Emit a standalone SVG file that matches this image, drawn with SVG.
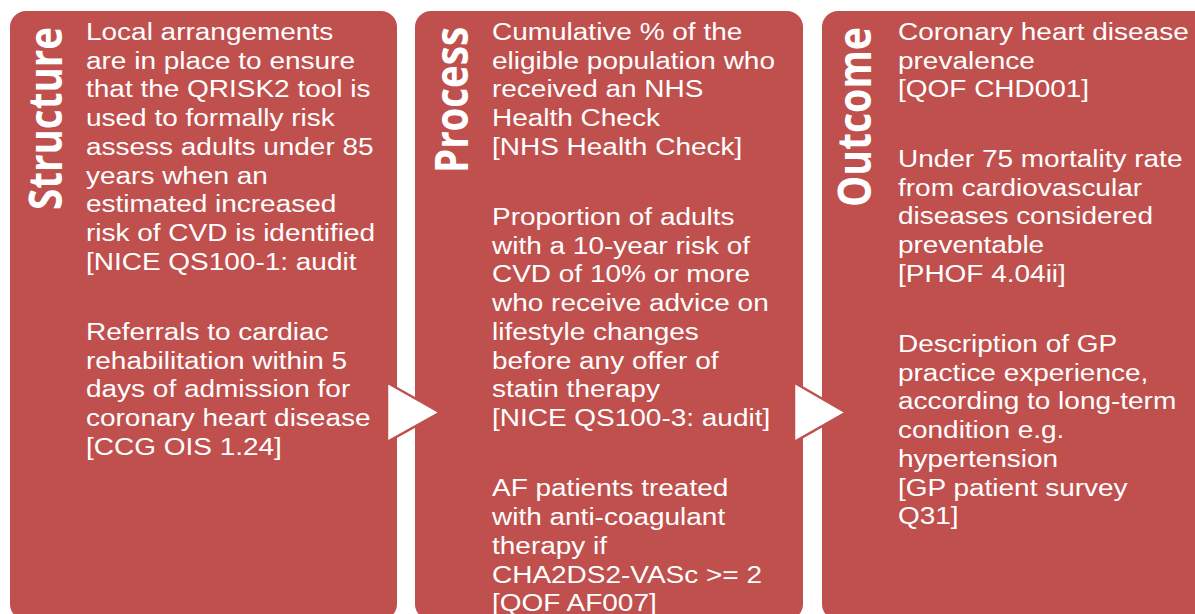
<svg xmlns="http://www.w3.org/2000/svg" width="1195" height="614" viewBox="0 0 1195 614">
<style>
.box{fill:#C0504D;}
.title{fill:#FFFFFF;font-family:"Open Sans","DejaVu Sans",sans-serif;font-weight:bold;font-size:41px;text-anchor:middle;}
.body{fill:#FFFFFF;font-family:"Liberation Sans",Arial,sans-serif;font-size:24.7px;}
.arrow{fill:#FFFFFF;stroke:#C0504D;stroke-width:2.5;stroke-linejoin:miter;}
</style>
<rect width="1195" height="614" fill="#FFFFFF"/>
<g id="structure">
<rect class="box" x="10" y="11" width="387" height="609" rx="16"/>
<text class="title" transform="translate(62,118.5) scale(1.133,1) rotate(-90)" textLength="183" lengthAdjust="spacingAndGlyphs">Structure</text>
<text class="body" transform="translate(86,0) scale(1.133,1)">
<tspan x="0" y="40">Local arrangements</tspan>
<tspan x="0" y="68.75">are in place to ensure</tspan>
<tspan x="0" y="97.5">that the QRISK2 tool is</tspan>
<tspan x="0" y="126.25">used to formally risk</tspan>
<tspan x="0" y="155">assess adults under 85</tspan>
<tspan x="0" y="183.75">years when an</tspan>
<tspan x="0" y="212.5">estimated increased</tspan>
<tspan x="0" y="241.25">risk of CVD is identified</tspan>
<tspan x="0" y="270">[NICE QS100-1: audit</tspan>
<tspan x="0" y="340">Referrals to cardiac</tspan>
<tspan x="0" y="368.75">rehabilitation within 5</tspan>
<tspan x="0" y="397.5">days of admission for</tspan>
<tspan x="0" y="426.25">coronary heart disease</tspan>
<tspan x="0" y="455">[CCG OIS 1.24]</tspan>
</text>
</g>
<g id="process">
<rect class="box" x="415" y="11" width="388" height="609" rx="16"/>
<text class="title" transform="translate(468,100) scale(1.133,1) rotate(-90)" textLength="146" lengthAdjust="spacingAndGlyphs">Process</text>
<text class="body" transform="translate(492,0) scale(1.133,1)">
<tspan x="0" y="40">Cumulative % of the</tspan>
<tspan x="0" y="68.75">eligible population who</tspan>
<tspan x="0" y="97.5">received an NHS</tspan>
<tspan x="0" y="126.25">Health Check</tspan>
<tspan x="0" y="155">[NHS Health Check]</tspan>
<tspan x="0" y="225">Proportion of adults</tspan>
<tspan x="0" y="253.75">with a 10-year risk of</tspan>
<tspan x="0" y="282.5">CVD of 10% or more</tspan>
<tspan x="0" y="311.25">who receive advice on</tspan>
<tspan x="0" y="340">lifestyle changes</tspan>
<tspan x="0" y="368.75">before any offer of</tspan>
<tspan x="0" y="397.5">statin therapy</tspan>
<tspan x="0" y="426.25">[NICE QS100-3: audit]</tspan>
<tspan x="0" y="496.5">AF patients treated</tspan>
<tspan x="0" y="525.25">with anti-coagulant</tspan>
<tspan x="0" y="554">therapy if</tspan>
<tspan x="0" y="582.75">CHA2DS2-VASc &gt;= 2</tspan>
<tspan x="0" y="611.5">[QOF AF007]</tspan>
</text>
</g>
<g id="outcome">
<rect class="box" x="822" y="11" width="388" height="609" rx="16"/>
<text class="title" transform="translate(871,117) scale(1.133,1) rotate(-90)" textLength="180" lengthAdjust="spacingAndGlyphs">Outcome</text>
<text class="body" transform="translate(898,0) scale(1.133,1)">
<tspan x="0" y="40">Coronary heart disease</tspan>
<tspan x="0" y="68.75">prevalence</tspan>
<tspan x="0" y="97.5">[QOF CHD001]</tspan>
<tspan x="0" y="167">Under 75 mortality rate</tspan>
<tspan x="0" y="195.75">from cardiovascular</tspan>
<tspan x="0" y="224.5">diseases considered</tspan>
<tspan x="0" y="253.25">preventable</tspan>
<tspan x="0" y="282">[PHOF 4.04ii]</tspan>
<tspan x="0" y="352">Description of GP</tspan>
<tspan x="0" y="380.75">practice experience,</tspan>
<tspan x="0" y="409.5">according to long-term</tspan>
<tspan x="0" y="438.25">condition e.g.</tspan>
<tspan x="0" y="467">hypertension</tspan>
<tspan x="0" y="495.75">[GP patient survey</tspan>
<tspan x="0" y="524.5">Q31]</tspan>
</text>
</g>
<g id="connectors">
<polygon class="arrow" points="387,382.5 440,412.5 387,442"/>
<polygon class="arrow" points="794,382.5 846,412.5 794,442"/>
</g>
</svg>
